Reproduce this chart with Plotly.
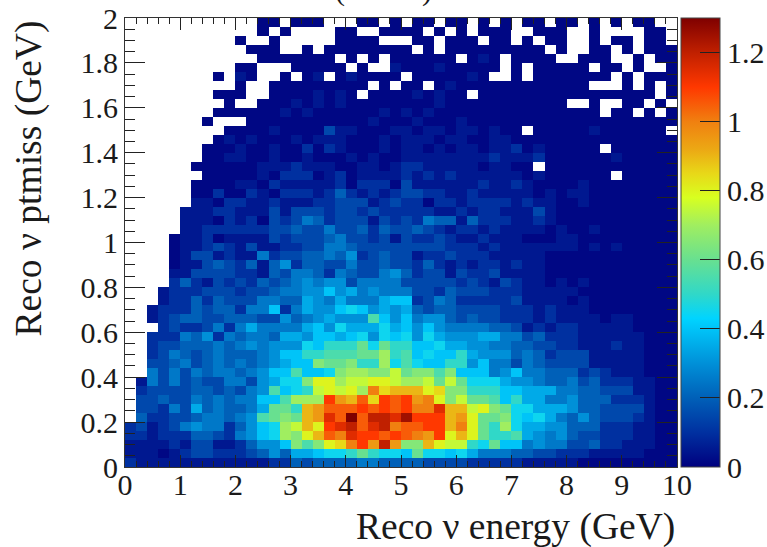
import plotly.graph_objects as go

# Cell levels, top row (y near 2 GeV) first, left half | right half of each row.
# '.' = empty bin; otherwise index into LEVEL_VALUES.
ROWS_LEFT = [
"............00.000...00.0",
"............0.0....00..00",
"..........0..0.....0000..",
"...........000..0.0000000",
"............0000000.0.0.0",
"..........00...00000.0..1",
"........0.10..0.01.010000",
"..........0..000000000.0.",
"........000..00001010.000",
".........0..0001010100000",
"........00000010100000010",
".......0...00000000000100",
".........0000100003110001",
"........01010001011100010",
".......000100100202100010",
".......001100100100010100",
"......0000001112111001101",
".......000001022201201111",
"......0000110211111202220",
"......0020021022212421212",
"......1102211211122333123",
".....11122111313332332322",
".....11102120323542333132",
".....11222222334335334243",
"....011201111323334533231",
"....011232131122335543333",
"....013312115233445462343",
"....011343241462443353343",
"....113333221435542543356",
"....242132324345656635555",
"...1222333233455668675655",
"...1224243335544765755578",
"..12224344255825766898676",
"..12344334443364567666b86",
"...2322352575555786977797",
"..22254625455477688789698",
"..2334445456566698aaac9ca",
"..23543454445688aabbbccea",
"..334534545456788dccdaae9",
"..5353545545688b889deeddf",
".153534335536799dggeffggf",
".233334434356b89afgfgekhi",
".3343354545588beeemjilhml",
".332537454457ccaijlllmlml",
".42233455456bcdcijnlqloon",
"23123565524689efigmnolnok",
"22122244325689edgilknmmlm",
"111121331124668dbdghkmjoj",
"11101233222346477899aca99",
"2111111111111224344445544",
]
ROWS_RIGHT = [
".00.00.0.0.00.00.0.0.00..",
"00.0.0.000..000..0....00.",
".00.000.00.0.00..0.00.00.",
"0.0.000000000.0..00.0.000",
"00000.010.0000..000..0.00",
"000100000.0.00000.00.0..0",
".0000010..0.0000000.0.000",
"00.01000000000000...0.0.0",
"010100.0000000000000000.0",
"000100000000000..0..00.0.",
"101000000000000000.00.0.0",
"0100010000000000000000000",
"10110110100.000001000000.",
"1110110011000000000000000",
"110101101120100000.000000",
"1111111121112000000100000",
"221111101100.000000000000",
"2121211111101000000.00000",
"3111111211210000100000000",
"3322112111110101100000000",
"2202212222121100100000000",
"2221121221113100000000000",
"3254414222112100000000000",
"3432122121111010010000000",
"3223211211100011000000000",
"3333222121111111010100000",
"3122322211111000000000000",
"3242121221211000000000000",
"4233132231111000000000000",
"3333323213211010100000000",
"5332433322211111000000000",
"8235422222311110100000000",
"7434433332221211100000000",
"8566434332221211110110000",
"8686555544312122111110000",
"9697666775534222111111000",
"a889776655443322111211000",
"b8988a7666454233311111000",
"b988aa6855354333311111000",
"cddbd88856855444232111000",
"eefcfc9997665445342221100",
"iighddaaa8877755443331100",
"mjkgdfccb8a77556444222100",
"mkkniifgdc997776443333100",
"pmmmijgccd989754643332100",
"llmmikgcae977664442221100",
"lkjmgigcaab76564332221100",
"ddigffa9c8856553342211100",
"8c99897555443322211111000",
"4433332222211111000000000",
]
LEVEL_CODES = "0123456789abcdefghijklmnopq"
LEVEL_VALUES = [0.015, 0.05, 0.1, 0.15, 0.2, 0.25, 0.3, 0.35, 0.4, 0.45, 0.5, 0.55, 0.6,
                0.65, 0.7, 0.75, 0.8, 0.85, 0.9, 0.95, 1.0, 1.05, 1.1, 1.15, 1.2, 1.25, 1.3]

X_EDGES = [i * 0.2 for i in range(51)]
Y_EDGES = [i * 0.04 for i in range(51)]
X_TITLE = "Reco ν energy (GeV)"
Y_TITLE = "Reco ν ptmiss (GeV)"
COLOR_STOPS = [(0, "#00007f"), (0.1, "#0030a0"), (0.2, "#0060b8"), (0.3, "#0090d8"), (0.4, "#00c4f8"),
               (0.43, "#00d4ff"), (0.5, "#30d8c8"), (0.6, "#68e090"), (0.7, "#a0ee60"), (0.78, "#d8ff20"),
               (0.85, "#e8d818"), (0.92, "#eca814"), (1.0, "#f08010"), (1.1, "#ff3800"), (1.2, "#c02000"), (1.3, "#7f0000")]
ZMAX = 1.3


def decode(ch):
    return None if ch == "." else LEVEL_VALUES[LEVEL_CODES.index(ch)]


rows = [l + r for l, r in zip(ROWS_LEFT, ROWS_RIGHT)]
for i, r in enumerate(rows):
    assert len(r) == 50, (i, len(r))
z = [[decode(c) for c in r] for r in reversed(rows)]

W, H = 767, 547
L, R, T, B = 125, 677, 17.5, 466.7
FONT = "Liberation Serif"
axis_common = dict(
    showgrid=False, zeroline=False, showline=True, linecolor="#333333", linewidth=1, mirror="ticks",
    ticks="inside", tickcolor="#222222", tickwidth=1, automargin=False,
    tickfont=dict(family=FONT, size=30, color="#1a1a1a"),
)
fig = go.Figure(go.Heatmap(
    x=X_EDGES, y=Y_EDGES, z=z, zmin=0, zmax=ZMAX, hoverongaps=False,
    colorscale=[[v / ZMAX, c] for v, c in COLOR_STOPS],
    colorbar=dict(
        x=(681 - L) / (R - L), xanchor="left", xref="paper", y=0, yanchor="bottom", len=1, lenmode="fraction",
        thickness=38.7, thicknessmode="pixels", xpad=0, ypad=0, outlinecolor="#444444", outlinewidth=1,
        tickmode="array", tickvals=[0, 0.2, 0.4, 0.6, 0.8, 1, 1.2], ticktext=["0", "0.2", "0.4", "0.6", "0.8", "1", "1.2"],
        ticks="inside", ticklen=20, tickcolor="#222222", tickwidth=1,
        tickfont=dict(family=FONT, size=30, color="#1a1a1a"),
    ),
))
fig.update_layout(
    width=W, height=H, autosize=False, paper_bgcolor="white", plot_bgcolor="white",
    font=dict(family=FONT),
    margin=dict(l=L, r=W - R, t=T, b=H - B, pad=0, autoexpand=False),
    xaxis=dict(axis_common, range=[0, 10], tickmode="linear", tick0=0, dtick=1, ticklen=12, ticklabelstandoff=-9,
               minor=dict(tick0=0, dtick=0.2, ticks="inside", ticklen=6, tickcolor="#222222", tickwidth=1)),
    yaxis=dict(axis_common, range=[0, 2], tickmode="linear", tick0=0, dtick=0.2, ticklen=20,
               minor=dict(tick0=0, dtick=0.05, ticks="inside", ticklen=10, tickcolor="#222222", tickwidth=1)),
    annotations=[
        dict(text=X_TITLE, xref="paper", yref="paper", x=1, y=-(527 - B) / (B - T), xanchor="right", yanchor="middle",
             showarrow=False, font=dict(family=FONT, size=37.5, color="#1a1a1a")),
        dict(text=Y_TITLE, xref="paper", yref="paper", x=(29 - L) / (R - L), y=1 - (178 - T) / (B - T), textangle=-90,
             xanchor="center", yanchor="middle", showarrow=False, font=dict(family=FONT, size=37.5, color="#1a1a1a")),
        dict(text="(", xref="paper", yref="paper", x=(340 - L) / (R - L), y=1 + (T - 8) / (B - T), xanchor="center", yanchor="bottom",
             showarrow=False, font=dict(family=FONT, size=30, color="#1a1a1a")),
        dict(text=")", xref="paper", yref="paper", x=(427 - L) / (R - L), y=1 + (T - 8) / (B - T), xanchor="center", yanchor="bottom",
             showarrow=False, font=dict(family=FONT, size=30, color="#1a1a1a")),
    ],
)
fig.write_html("out.html", config=dict(displayModeBar=False),
               post_script="document.body.style.margin='0';document.documentElement.style.overflow='hidden';")
